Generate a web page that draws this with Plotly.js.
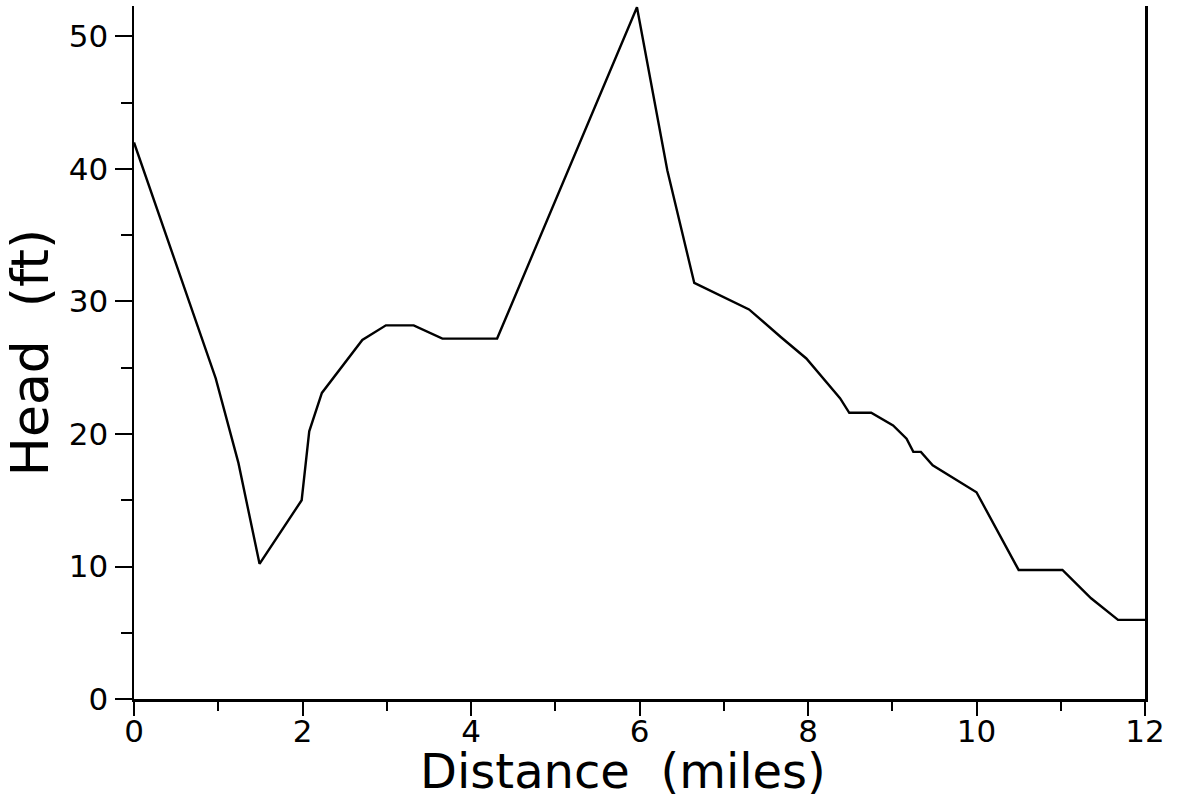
<!DOCTYPE html>
<html>
<head>
<meta charset="utf-8">
<script src="https://cdn.plot.ly/plotly-3.0.1.min.js"></script>
<style>html,body{margin:0;padding:0;background:#fff;}#chart{width:1177px;height:798px;}</style>
</head>
<body>
<div id="chart"></div>
<script>
// Distance along section (miles) and hydraulic head (ft)
const distance = [0, 0.97, 1.24, 1.34, 1.49, 1.99, 2.08, 2.23, 2.71, 2.99, 3.32, 3.66, 4.31,
  5.97, 6.33, 6.65, 7.30, 7.68, 7.98, 8.38, 8.49, 8.75, 9.01, 9.17, 9.25, 9.34, 9.48,
  10.0, 10.5, 11.02, 11.36, 11.68, 12.0];
const head = [42.0, 24.2, 17.8, 14.8, 10.2, 15.0, 20.2, 23.1, 27.1, 28.2, 28.2, 27.2, 27.2,
  52.2, 39.9, 31.4, 29.4, 27.3, 25.7, 22.7, 21.6, 21.6, 20.65, 19.65, 18.65, 18.65, 17.64,
  15.6, 9.74, 9.74, 7.6, 5.97, 5.97];

const xTicks = [0, 2, 4, 6, 8, 10, 12];
const yTicks = [0, 10, 20, 30, 40, 50];
const xTitle = 'Distance\u00a0\u00a0(miles)';
const yTitle = 'Head\u00a0\u00a0(ft)';

const font = 'DejaVu Sans, sans-serif';

const trace = {
  x: distance,
  y: head,
  type: 'scatter',
  mode: 'lines',
  line: {color: '#000', width: 2.4},
  hoverinfo: 'x+y'
};

const layout = {
  width: 1177,
  height: 798,
  margin: {l: 134, r: 32, t: 6, b: 99, pad: 0},
  paper_bgcolor: '#fff',
  plot_bgcolor: '#fff',
  showlegend: false,
  font: {family: font, color: '#000', size: 31},
  xaxis: {
    range: [0, 12],
    tickvals: xTicks,
    ticktext: xTicks.map(String),
    ticks: 'outside',
    ticklen: 14,
    tickwidth: 2,
    tickcolor: '#000',
    tickfont: {family: font, size: 31, color: '#000'},
    ticklabelposition: 'outside',
    ticklabelstandoff: -11,
    minor: {dtick: 1, ticks: 'outside', ticklen: 9, tickwidth: 2, tickcolor: '#000', showgrid: false},
    showline: true,
    linecolor: '#000',
    linewidth: 2.5,
    showgrid: false,
    zeroline: false
  },
  yaxis: {
    range: [0, 52.3],
    tickvals: yTicks,
    ticktext: yTicks.map(String),
    ticks: 'outside',
    ticklen: 17,
    tickwidth: 2,
    tickcolor: '#000',
    tickfont: {family: font, size: 31, color: '#000'},
    minor: {dtick: 5, ticks: 'outside', ticklen: 11, tickwidth: 2, tickcolor: '#000', showgrid: false},
    showline: true,
    mirror: true,
    linecolor: '#000',
    linewidth: 2.5,
    showgrid: false,
    zeroline: false,
    title: {text: yTitle, font: {family: font, size: 52, color: '#000'}, standoff: 6}
  },
  annotations: [{
    text: xTitle,
    xref: 'paper', yref: 'paper',
    x: 0.484, y: 0,
    xanchor: 'center', yanchor: 'top',
    yshift: -42,
    showarrow: false,
    font: {family: font, size: 48, color: '#000'}
  }]
};

Plotly.newPlot('chart', [trace], layout, {displayModeBar: false, staticPlot: true});
</script>
</body>
</html>
